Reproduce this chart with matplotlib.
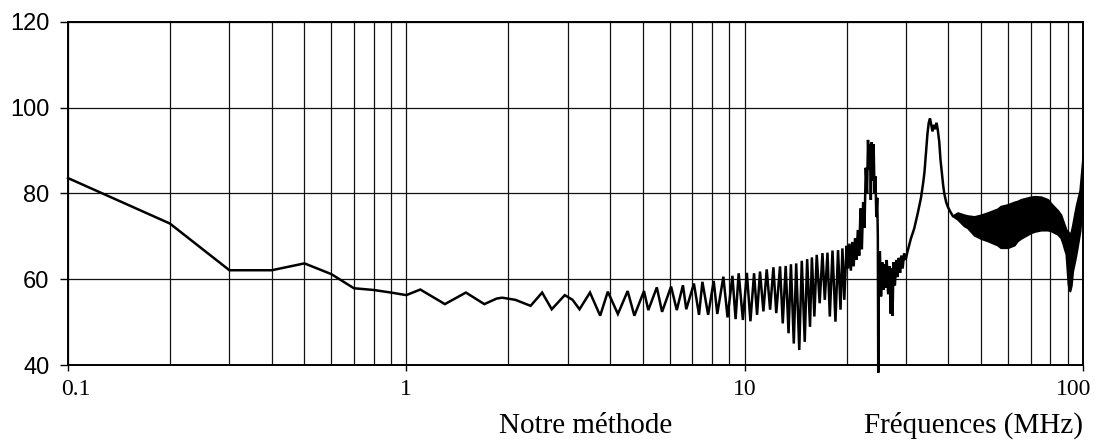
import matplotlib
matplotlib.use("Agg")
import matplotlib.pyplot as plt
from matplotlib.ticker import FixedLocator, NullFormatter
from matplotlib.transforms import ScaledTranslation

# ---------------- data ----------------
# 0.1 - 1 MHz
freq_low = [0.1, 0.2, 0.3, 0.4, 0.5, 0.6, 0.7, 0.8, 0.9]
level_low = [83.6, 73.0, 62.1, 62.1, 63.7, 61.2, 57.9, 57.5, 56.9]

# 1 - 10 MHz ripple (peaks / troughs)
freq_mid = [1.0, 1.1, 1.3, 1.5, 1.7, 1.85, 1.92, 2.1, 2.33, 2.52, 2.69, 2.94,
            3.1, 3.25, 3.49, 3.74, 3.94, 4.22, 4.51, 4.72, 5.04, 5.19, 5.5,
            5.7, 6.06, 6.3, 6.57, 6.72, 7.08, 7.33, 7.5, 7.8, 8.1, 8.3, 8.65,
            8.9, 9.2, 9.4, 9.6, 9.88]
level_mid = [56.3, 57.6, 54.2, 56.9, 54.2, 55.5, 55.7, 55.2, 53.8, 56.9, 53.0,
             56.3, 55.2, 53.0, 56.9, 51.5, 57.1, 51.9, 57.25, 51.5, 57.25, 52.8,
             58.1, 52.4, 58.3, 52.8, 58.6, 53.0, 59.0, 51.7, 59.4, 51.7, 59.6,
             51.9, 60.6, 51.1, 60.8, 50.7, 61.4, 50.5]

# 10 - 20 MHz ripple
freq_hf = [10.15, 10.4, 10.66, 10.88, 11.1, 11.36, 11.62, 11.89, 12.16, 12.4,
           12.72, 12.96, 13.22, 13.48, 13.7, 13.97, 14.2, 14.5, 14.75, 15.05,
           15.3, 15.6, 15.8, 16.07, 16.33, 16.66, 16.98, 17.25, 17.57, 17.85,
           18.18, 18.55, 18.88, 19.2, 19.45, 19.7]
level_hf = [61.5, 50.2, 61.4, 51.7, 61.8, 52.5, 62.3, 52.9, 62.8, 52.1,
            63.0, 49.7, 63.1, 47.4, 63.5, 45.0, 63.7, 43.5, 64.3, 45.4,
            64.7, 48.9, 65.1, 51.3, 65.7, 54.4, 66.1, 55.2, 66.2, 51.3,
            66.7, 50.1, 66.8, 52.9, 67.2, 55.2]

# 20 - 41 MHz: first resonance, notch, second resonance
freq_res = [20.0, 20.2, 20.4, 20.6, 20.8, 21.0, 21.2, 21.4, 21.6, 21.8, 22.0,
            22.2, 22.4, 22.6, 22.8, 23.0, 23.15, 23.3, 23.45, 23.6, 23.75,
            23.9, 24.05, 24.2, 24.35, 24.5, 24.65, 24.75, 24.82, 24.9, 25.1,
            25.3, 25.5, 25.7, 25.9, 26.1, 26.3, 26.55, 26.8, 27.0, 27.2, 27.35,
            27.55, 27.8, 28.05, 28.3, 28.55, 28.8, 29.05, 29.3, 29.6, 29.9,
            30.3, 31.0, 31.7, 32.5, 33.2, 33.7, 34.0, 34.4, 34.7, 35.0, 35.3,
            35.6, 35.9, 36.2, 36.6, 36.9, 37.2, 37.6, 37.9, 38.2, 38.6, 38.9,
            39.4, 39.8, 40.5, 41.2]
level_res = [67.8, 62.5, 68.3, 62.0, 68.7, 63.0, 69.5, 64.5, 71.5, 65.5, 76.5,
             67.0, 78.0, 72.0, 86.0, 80.0, 92.5, 85.5, 91.5, 78.5, 92.0,
             83.0, 91.5, 80.0, 84.0, 74.5, 79.0, 70.0, 38.2, 63.0, 66.5,
             56.0, 64.0, 57.5, 63.5, 58.0, 64.5, 56.5, 63.0, 52.0, 62.5, 51.5,
             64.0, 58.5, 64.5, 60.5, 65.0, 61.5, 65.5, 62.5, 66.0, 64.5,
             66.5, 69.5, 71.8, 75.5, 79.0, 82.5, 85.0, 90.0, 94.0, 96.5, 97.5,
             96.0, 94.5, 96.0, 95.0, 96.5, 95.0, 92.0, 88.0, 85.5, 82.0, 80.0,
             78.0, 77.0, 75.8, 74.8]

# 41 - 100 MHz: dense ripple band (upper / lower envelopes)
band_freq = [41.2, 42.6, 44.5, 45.6, 47.7, 50.0, 52.2, 55.9, 57.1, 59.9, 62.6,
             64.0, 65.6, 70.2, 72.0, 75.1, 78.6, 80.5, 84.2, 86.0, 87.1, 88.2,
             89.1, 90.4, 91.4, 92.2, 93.1, 94.6, 95.7, 97.9, 99.0, 100.0]
band_hi = [74.8, 75.5, 75.0, 74.8, 74.6, 75.0, 75.5, 76.4, 77.0, 77.4, 78.0,
           78.2, 78.6, 79.2, 79.3, 79.2, 78.6, 77.6, 76.0, 75.0, 73.7, 72.5,
           71.5, 71.0, 70.5, 71.0, 72.5, 75.5, 77.5, 80.7, 85.0, 89.0]
band_lo = [74.8, 74.0, 72.5, 72.0, 70.3, 69.5, 69.0, 68.0, 67.4, 67.4, 68.0,
           69.0, 69.6, 70.9, 71.2, 71.5, 71.5, 71.3, 70.5, 69.7, 68.5, 67.0,
           65.9, 58.8, 57.3, 58.5, 61.9, 64.5, 66.6, 71.3, 76.0, 82.0]

x_ticks = [0.1, 1, 10, 100]
x_tick_labels = ["0.1", "1", "10", "100"]
y_ticks = [40, 60, 80, 100, 120]
grid_minor = [k * 10.0 ** d for d in (-1, 0, 1) for k in range(2, 10)]

# ---------------- figure ----------------
W, H = 1095, 446
fig = plt.figure(figsize=(W / 100, H / 100), dpi=100)
ax = fig.add_axes([68 / W, 1 - 365 / H, (1083 - 68) / W, (365 - 22) / H])

freq_line = freq_low + freq_mid + freq_hf + freq_res
level_line = level_low + level_mid + level_hf + level_res
ax.plot(freq_line, level_line, color="black", lw=1.8, clip_on=False, zorder=3,
        solid_joinstyle="miter")
ax.fill_between(band_freq, band_lo, band_hi, color="black", lw=1.6, zorder=3)

ax.set_xscale("log")
ax.set_xlim(0.1, 100)
ax.set_ylim(40, 120)

ax.xaxis.set_major_locator(FixedLocator(x_ticks))
ax.set_xticklabels(x_tick_labels)
ax.xaxis.set_minor_locator(FixedLocator(grid_minor))
ax.xaxis.set_minor_formatter(NullFormatter())
ax.set_yticks(y_ticks)

ax.grid(True, which="both", axis="x", color="#111111", lw=0.9)
ax.grid(True, which="major", axis="y", color="#111111", lw=0.9)
ax.set_axisbelow(True)

for s in ax.spines.values():
    s.set_linewidth(1.4)
    s.set_color("black")

ax.tick_params(axis="y", which="major", direction="out", length=5.5, width=1,
               pad=8, labelsize=17)
ax.tick_params(axis="x", which="major", direction="out", length=4, width=1,
               pad=6, labelsize=17)
ax.tick_params(axis="x", which="minor", length=0)

for lab in ax.get_yticklabels():
    lab.set_fontfamily("Liberation Sans")
xl = ax.get_xticklabels()
for lab in xl:
    lab.set_fontfamily("Liberation Serif")
xl[0].set_transform(xl[0].get_transform() + ScaledTranslation(8 / 100, 0, fig.dpi_scale_trans))
xl[-1].set_transform(xl[-1].get_transform() + ScaledTranslation(-9 / 100, 0, fig.dpi_scale_trans))

fig.text(586 / W, 1 - 433 / H, "Notre méthode", ha="center", va="baseline",
         fontsize=21, family="Liberation Serif")
fig.text(974 / W, 1 - 433 / H, "Fréquences (MHz)", ha="center", va="baseline",
         fontsize=21, family="Liberation Serif")

fig.savefig("out.png", dpi=100, facecolor="white")
